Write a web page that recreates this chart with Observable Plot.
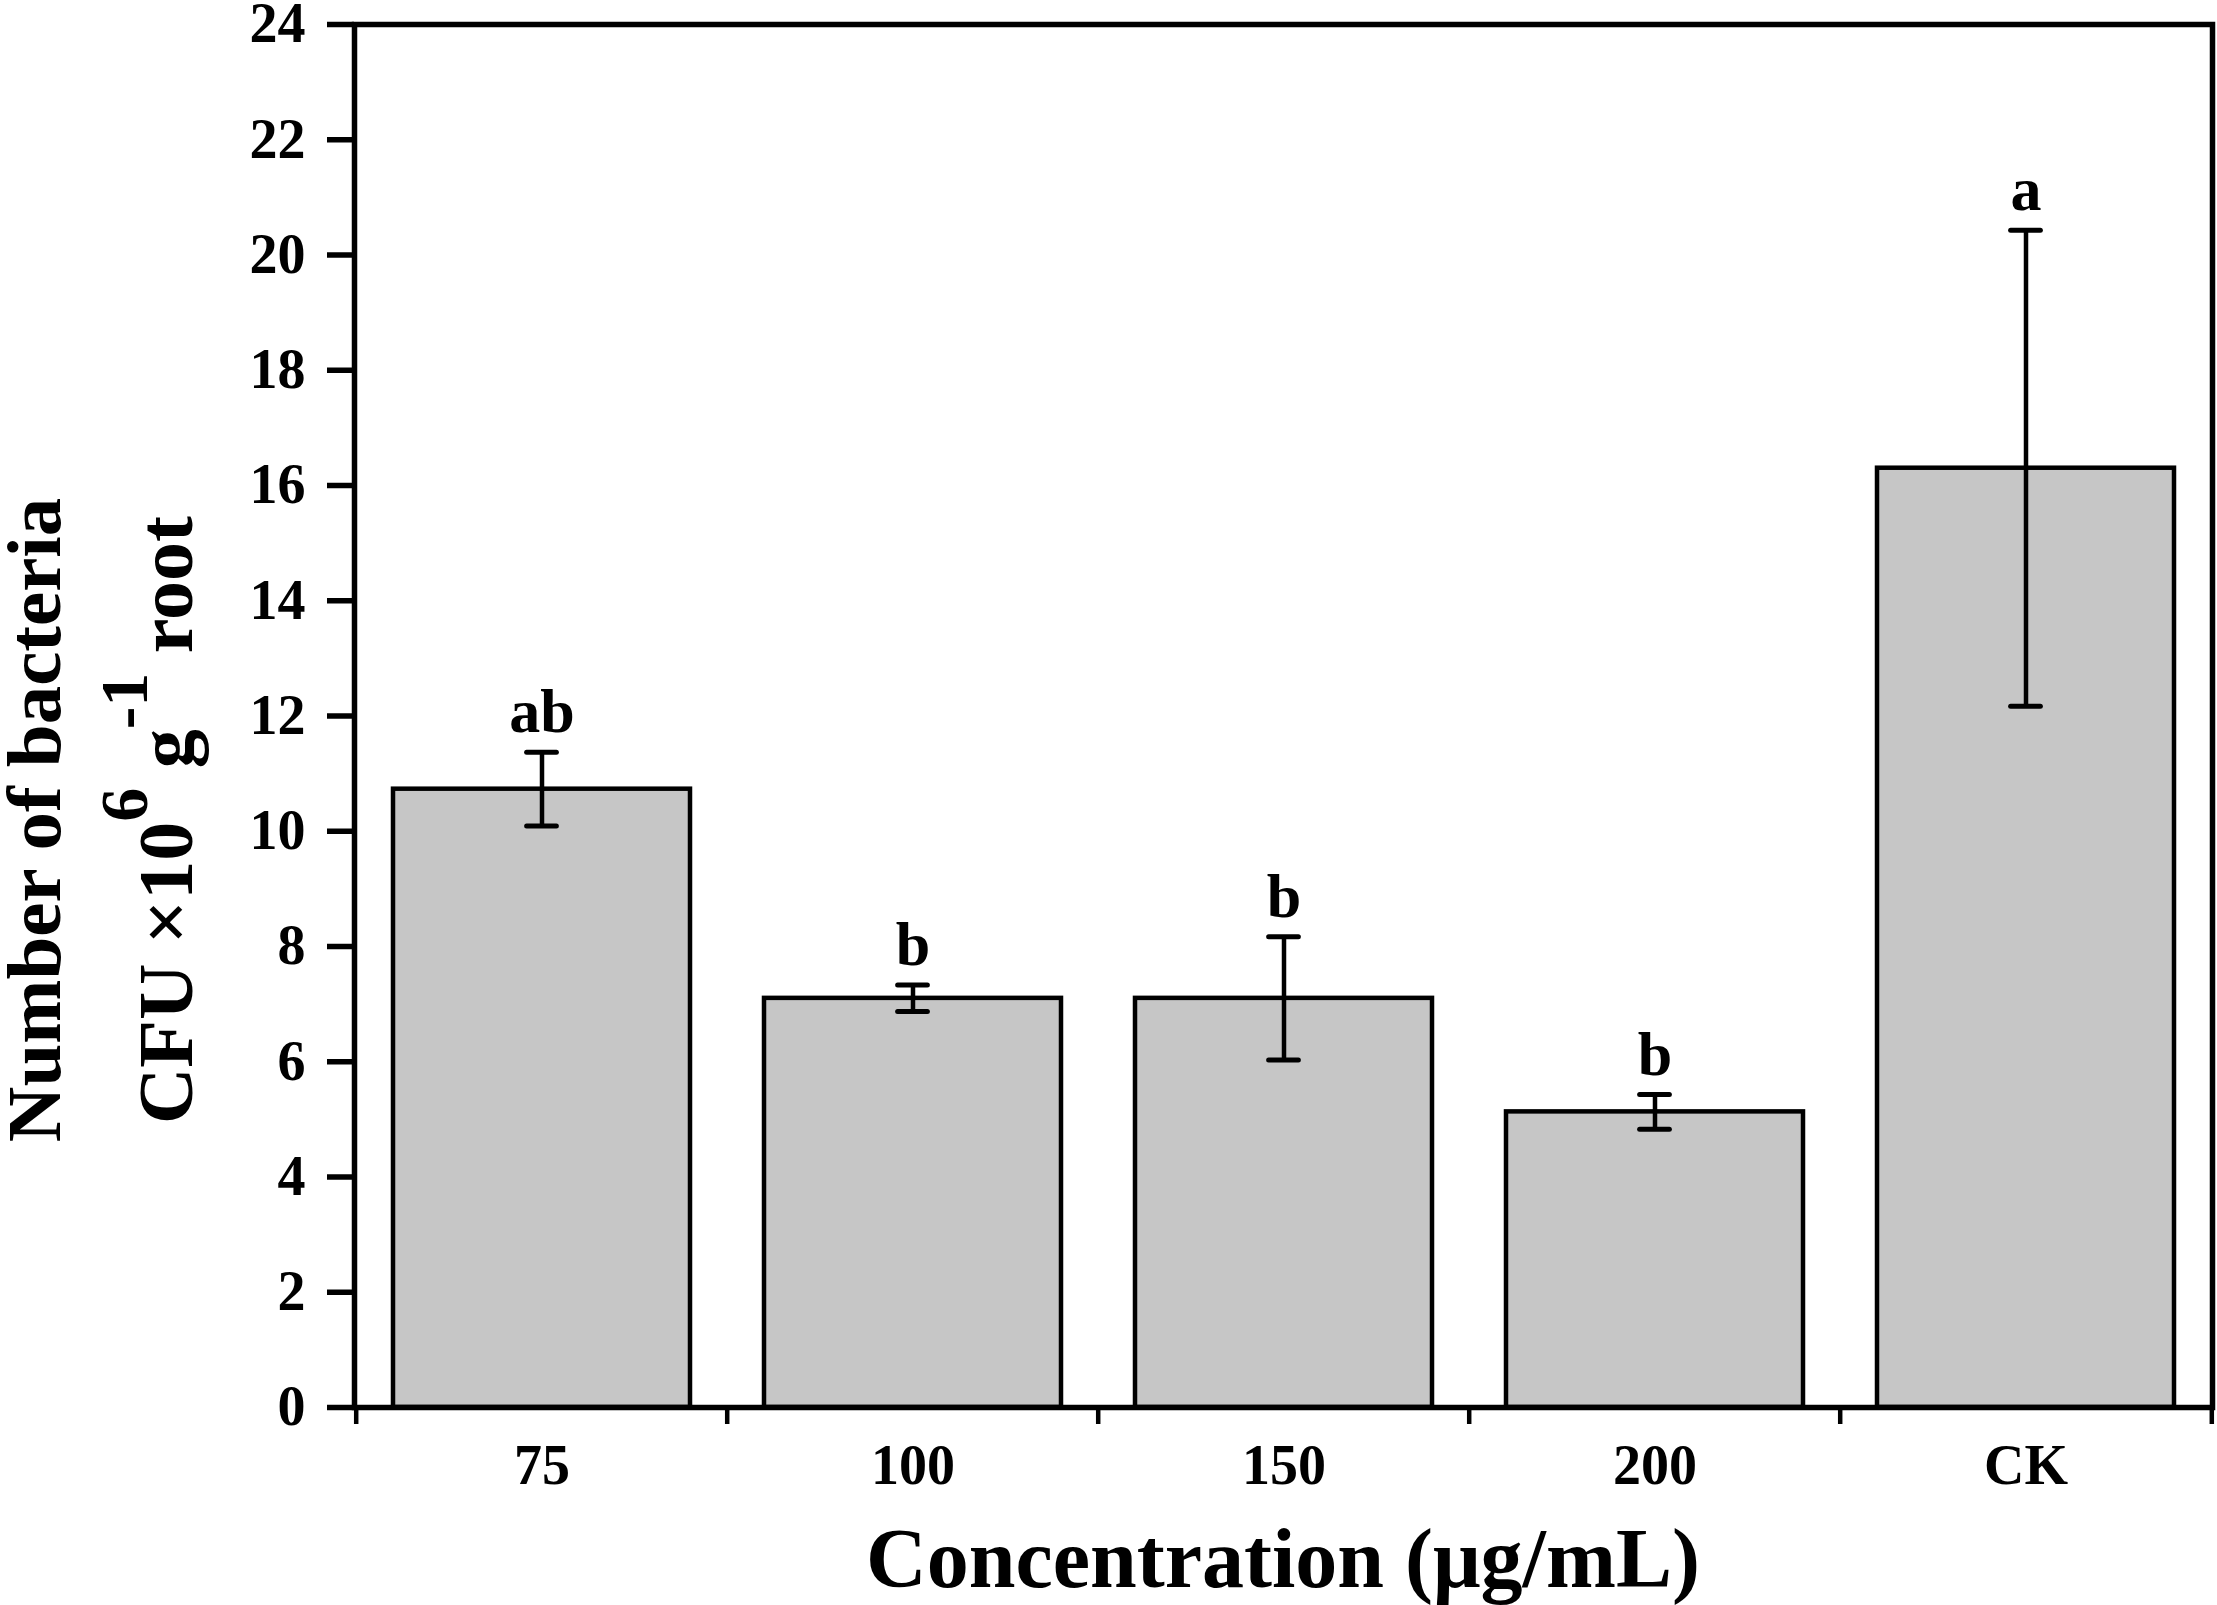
<!DOCTYPE html>
<html>
<head>
<meta charset="utf-8">
<script src="https://cdn.jsdelivr.net/npm/d3@7"></script>
<script src="https://cdn.jsdelivr.net/npm/@observablehq/plot@0.6"></script>
<style>
  html, body { margin: 0; padding: 0; background: white; overflow: hidden; }
  #chart svg { display: block; }
</style>
</head>
<body>
<div id="chart"></div>
<script>
const categories = ["75", "100", "150", "200", "CK"];
const means = [10.73, 7.10, 7.10, 5.13, 16.30];
const sds = [0.64, 0.23, 1.07, 0.30, 4.13];
const letters = ["ab", "b", "b", "b", "a"];
const yTicks = [0, 2, 4, 6, 8, 10, 12, 14, 16, 18, 20, 22, 24];
const xTitle = "Concentration (μg/mL)";
const yTitle1 = "Number of bacteria";

const W = 2217, H = 1605;
const mL = 354, mR = 5, mT = 24, mB = 198;
const step = (W - mL - mR) / categories.length;
const bw = step * 0.8;
const capW = 30;
const capInset = (bw - capW) / 2;
const FONT = "'Liberation Serif', 'Times New Roman', serif";

const data = categories.map((c, i) => ({cat: c, mean: means[i], sd: sds[i], sig: letters[i]}));

const plot = Plot.plot({
  width: W, height: H,
  marginLeft: mL, marginRight: mR, marginTop: mT, marginBottom: mB,
  style: {fontFamily: FONT, fontWeight: "bold", background: "white", color: "black"},
  x: {domain: categories, paddingInner: 0.2, paddingOuter: 0.1, axis: null},
  y: {domain: [0, 24], axis: null},
  marks: [
    Plot.barY(data, {x: "cat", y: "mean", fill: "#c6c6c6", stroke: "black", strokeWidth: 4.5}),
    Plot.ruleX(data, {x: "cat", y1: d => d.mean - d.sd, y2: d => d.mean + d.sd, stroke: "black", strokeWidth: 4.5}),
    Plot.tickY(data, {x: "cat", y: d => d.mean + d.sd, stroke: "black", strokeWidth: 5, strokeLinecap: "round", insetLeft: capInset, insetRight: capInset}),
    Plot.tickY(data, {x: "cat", y: d => d.mean - d.sd, stroke: "black", strokeWidth: 5, strokeLinecap: "round", insetLeft: capInset, insetRight: capInset}),
    Plot.text(data, {x: "cat", y: d => d.mean + d.sd, text: "sig", lineAnchor: "bottom", dy: -20, fontSize: 62, fontWeight: "bold", fill: "black"}),
    Plot.axisY({ticks: yTicks, tickSize: 27, tickPadding: 22, fontSize: 56, strokeWidth: 5.5, tickFormat: d => String(d), label: null}),
    Plot.axisX({tickSize: 0, tickPadding: 37, fontSize: 56, label: null}),
    Plot.ruleX(categories, {x: d => d, dx: -step / 2, y1: () => 0, y2: () => 0, insetBottom: -17, stroke: "black", strokeWidth: 4.5}),
    Plot.ruleX(categories.slice(-1), {x: d => d, dx: step / 2, y1: () => 0, y2: () => 0, insetBottom: -17, stroke: "black", strokeWidth: 4.5}),
    Plot.frame({stroke: "black", strokeWidth: 5.5})
  ]
});

document.getElementById("chart").appendChild(plot);

const svg = d3.select(plot);
const g = svg.append("g")
  .attr("font-family", FONT)
  .attr("font-weight", "bold")
  .attr("fill", "black");

g.append("text")
  .attr("transform", "translate(60,820) rotate(-90)")
  .attr("text-anchor", "middle")
  .attr("font-size", 77)
  .text(yTitle1);

const t2 = g.append("text")
  .attr("transform", "translate(192,820) rotate(-90)")
  .attr("text-anchor", "middle")
  .attr("font-size", 78);
t2.append("tspan").text("CFU ×10");
t2.append("tspan").attr("dy", -45).attr("font-size", 68).text("6");
t2.append("tspan").attr("dy", 45).text(" g");
t2.append("tspan").attr("dy", -45).attr("font-size", 68).text("-1");
t2.append("tspan").attr("dy", 45).text(" root");

g.append("text")
  .attr("x", (mL + W - mR) / 2)
  .attr("y", 1587)
  .attr("text-anchor", "middle")
  .attr("font-size", 84)
  .text(xTitle);
</script>
</body>
</html>
